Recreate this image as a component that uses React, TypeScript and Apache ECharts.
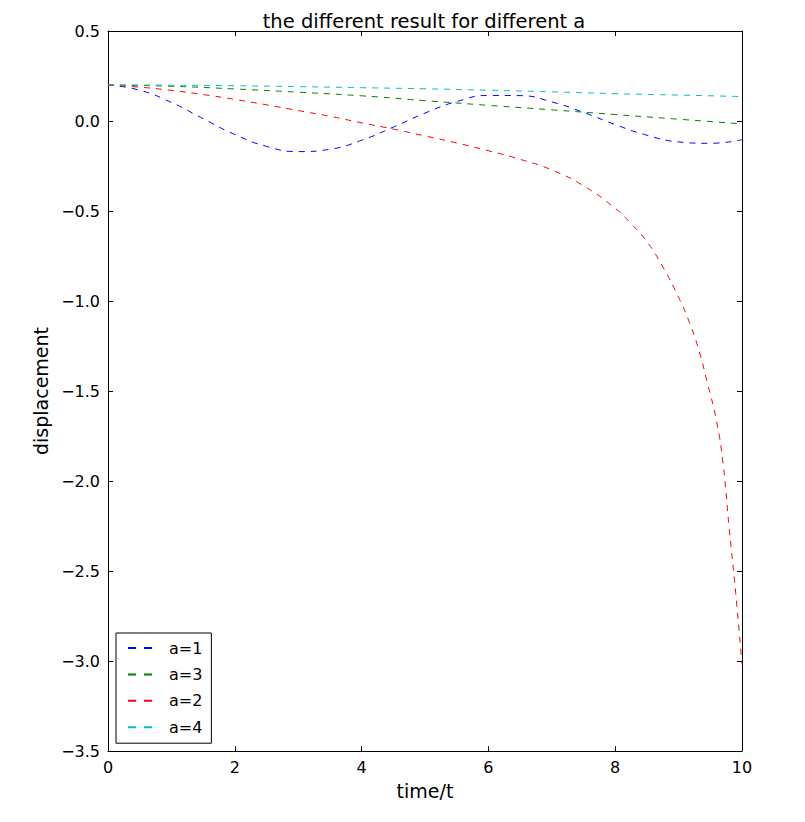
import React, { useEffect, useRef } from "react";
import * as echarts from "echarts";

const TITLE = "the different result for different a";
const X_NAME = "time/t";
const Y_NAME = "displacement";

const TIME_STD = [0, 0.5, 1, 1.5, 2, 2.5, 3, 3.5, 4, 4.5, 5, 5.5, 6, 6.5, 7, 7.5, 8, 8.5, 9, 9.5, 10];
const A1_VALUES = [0.2, 0.171, 0.103, 0.013, -0.075, -0.141, -0.17, -0.157, -0.107, -0.034, 0.044, 0.108, 0.142, 0.141, 0.106, 0.048, -0.02, -0.079, -0.116, -0.124, -0.104];

const TIME_A3 = [0, 1, 2, 3, 4, 5, 6, 7, 8, 9, 10];
const A3_VALUES = [0.2, 0.193, 0.178, 0.16, 0.14, 0.113, 0.087, 0.062, 0.036, 0.01, -0.016];

const TIME_A2 = [0, 0.5, 1, 1.5, 2, 2.5, 3, 3.5, 4, 4.5, 5, 5.5, 6, 6.5, 7, 7.5, 8, 8.25, 8.5, 8.75, 9, 9.15, 9.3, 9.45, 9.6, 9.7, 9.8, 9.9, 10];
const A2_VALUES = [0.2, 0.188, 0.17, 0.147, 0.12, 0.09, 0.058, 0.026, -0.01, -0.045, -0.083, -0.122, -0.165, -0.213, -0.272, -0.36, -0.485, -0.57, -0.67, -0.81, -0.98, -1.1, -1.25, -1.45, -1.67, -1.9, -2.27, -2.62, -3.02];

const TIME_A4 = [0, 1, 2, 3, 4, 5, 6, 7, 8, 9, 10];
const A4_VALUES = [0.2, 0.199, 0.196, 0.191, 0.185, 0.179, 0.171, 0.162, 0.152, 0.144, 0.136];

const SERIES_NAMES = ["a=1", "a=3", "a=2", "a=4"];
const SERIES_COLORS = ["#0000ff", "#008000", "#ff0000", "#00bfbf"];

const X_MIN = 0, X_MAX = 10, X_STEP = 2;
const Y_MIN = -3.5, Y_MAX = 0.5, Y_STEP = 0.5;

const FONT = "DejaVu Sans";

function pairs(t: number[], v: number[]) {
  return t.map((x, i) => [x, v[i]]);
}

export default function App() {
  const ref = useRef<HTMLDivElement>(null);
  useEffect(() => {
    if (!ref.current) return;
    const chart = echarts.init(ref.current, null, { renderer: "svg" });
    const dataSets = [
      pairs(TIME_STD, A1_VALUES),
      pairs(TIME_A3, A3_VALUES),
      pairs(TIME_A2, A2_VALUES),
      pairs(TIME_A4, A4_VALUES),
    ];
    const tickBase = {
      axisLine: { show: true, onZero: false, lineStyle: { color: "#000", width: 1 } },
      axisTick: { show: true, inside: true, length: 5, lineStyle: { color: "#000" } },
      splitLine: { show: false },
    };
    const fmtY = (v: number) => v.toFixed(1).replace("-", "\u2212");
    chart.setOption({
      animation: false,
      backgroundColor: "#fff",
      title: {
        text: TITLE,
        left: 419,
        top: 6,
        textAlign: "center",
        textStyle: { fontFamily: FONT, fontSize: 19.5, fontWeight: "normal", color: "#000" },
      },
      grid: { left: 108, top: 31, width: 634, height: 720, containLabel: false },
      xAxis: [
        {
          type: "value",
          min: X_MIN,
          max: X_MAX,
          interval: X_STEP,
          position: "bottom",
          name: X_NAME,
          nameLocation: "middle",
          nameGap: 30,
          nameTextStyle: { fontFamily: FONT, fontSize: 19, color: "#000" },
          axisLabel: { fontFamily: FONT, fontSize: 16, color: "#000", margin: 8, formatter: (v: number) => String(v) },
          ...tickBase,
        },
        {
          type: "value",
          min: X_MIN,
          max: X_MAX,
          interval: X_STEP,
          position: "top",
          axisLabel: { show: false },
          ...tickBase,
        },
      ],
      yAxis: [
        {
          type: "value",
          min: Y_MIN,
          max: Y_MAX,
          interval: Y_STEP,
          position: "left",
          name: Y_NAME,
          nameLocation: "middle",
          nameGap: 49,
          nameRotate: 90,
          nameTextStyle: { fontFamily: FONT, fontSize: 19, color: "#000" },
          axisLabel: { fontFamily: FONT, fontSize: 16, color: "#000", margin: 8, formatter: fmtY },
          ...tickBase,
        },
        {
          type: "value",
          min: Y_MIN,
          max: Y_MAX,
          interval: Y_STEP,
          position: "right",
          axisLabel: { show: false },
          ...tickBase,
        },
      ],
      legend: {
        show: true,
        orient: "vertical",
        left: 116,
        top: 633,
        data: SERIES_NAMES,
        backgroundColor: "#fff",
        borderColor: "#000",
        borderWidth: 1,
        borderRadius: 0,
        padding: [6, 9, 7, 12],
        itemGap: 8.4,
        itemWidth: 24,
        itemHeight: 2,
        icon: "path://M0,0h8v2h-8zM16,0h8v2h-8z",
        textStyle: { fontFamily: FONT, fontSize: 16, color: "#000", lineHeight: 18, padding: [0, 0, 0, 12] },
      },
      series: SERIES_NAMES.map((name, i) => ({
        name,
        type: "line",
        xAxisIndex: 0,
        yAxisIndex: 0,
        data: dataSets[i],
        showSymbol: false,
        symbol: "none",
        smooth: true,
        color: SERIES_COLORS[i],
        itemStyle: { color: SERIES_COLORS[i] },
        lineStyle: { color: SERIES_COLORS[i], width: 1, type: [6, 6] },
      })),
    });
    return () => chart.dispose();
  }, []);
  return (
    <div
      ref={ref}
      style={{ position: "fixed", left: 0, top: 0, width: 805, height: 822, background: "#fff" }}
    />
  );
}
